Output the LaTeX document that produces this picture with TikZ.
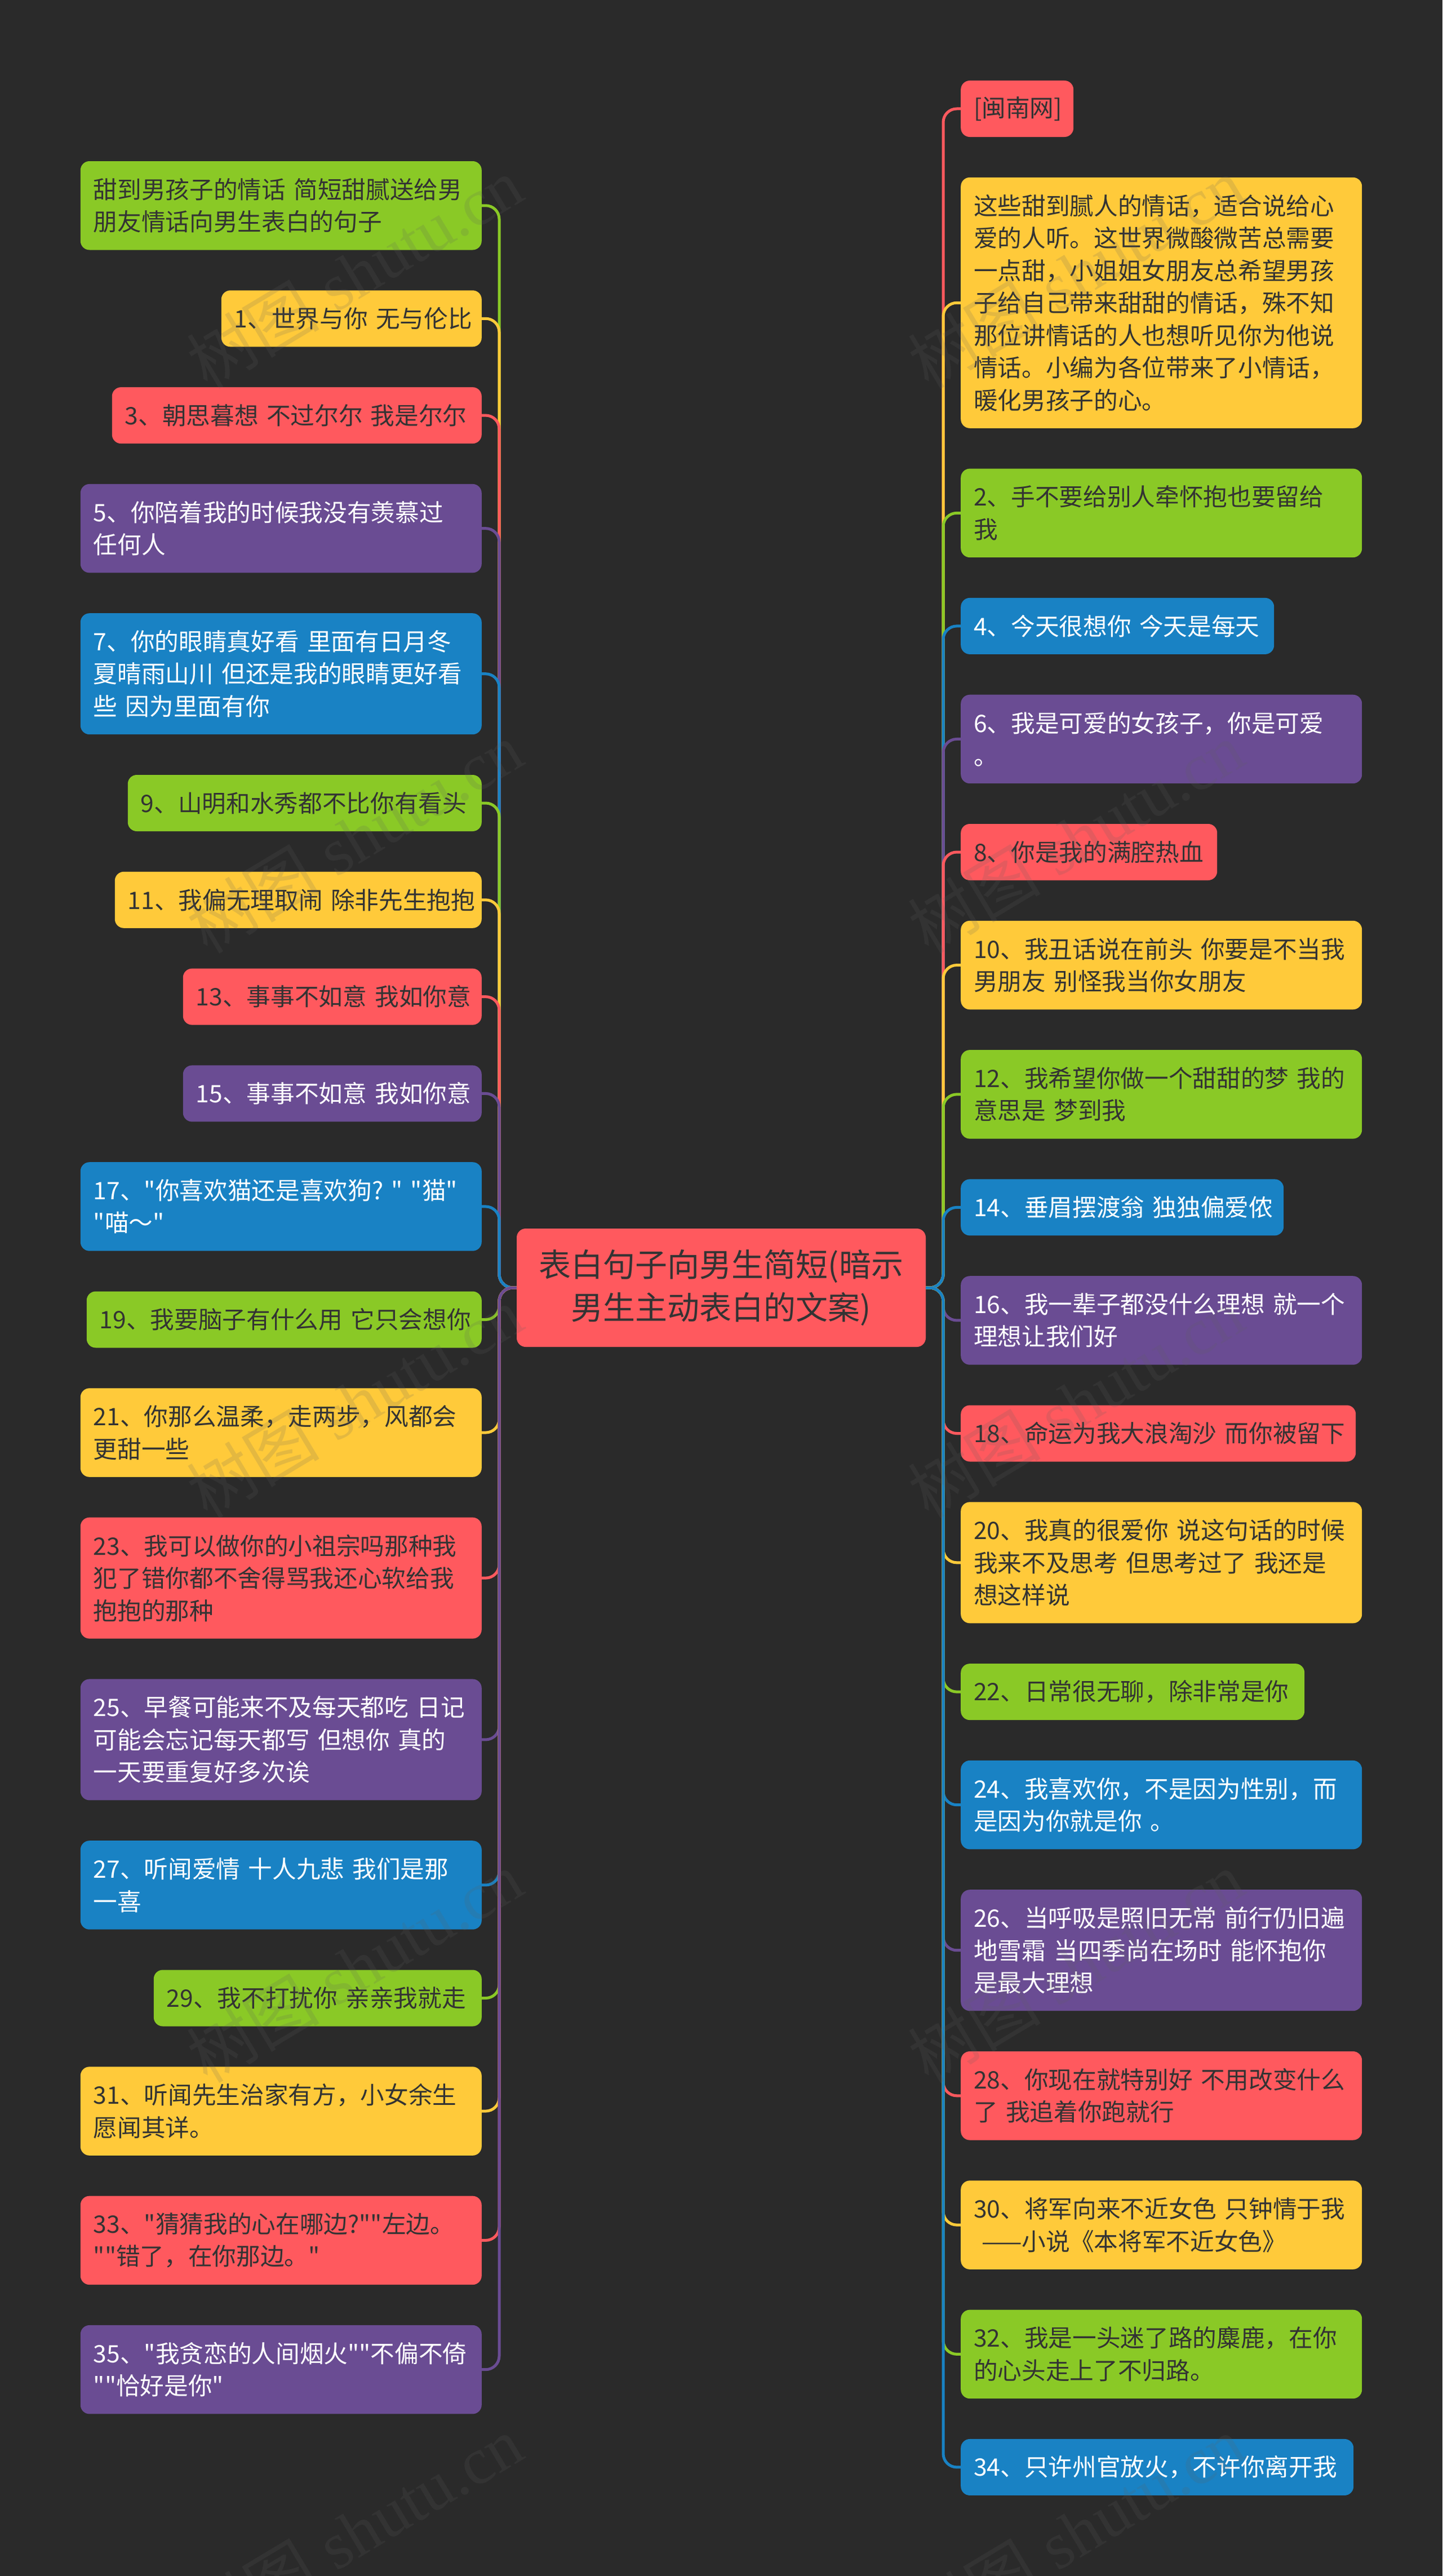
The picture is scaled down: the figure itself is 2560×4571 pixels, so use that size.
\documentclass[tikz,border=0pt]{standalone}
\usepackage{fontspec}
\newfontfamily\cjkf[WordSpace=1.25]{Noto Sans CJK SC}
\newfontfamily\wmserif{Liberation Serif}
\definecolor{bgc}{HTML}{2A2A2A}
\definecolor{grn}{HTML}{8AC926}
\definecolor{yel}{HTML}{FFCA3A}
\definecolor{red2}{HTML}{FF595E}
\definecolor{pur}{HTML}{6A4C93}
\definecolor{blu}{HTML}{1982C4}
\definecolor{ink}{HTML}{333333}
\definecolor{wmc}{HTML}{606060}
\tikzset{
  x=1pt,y=-1pt,
  boxbase/.style={rectangle,rounded corners=16pt,inner xsep=23pt,inner ysep=0pt,align=left,
    font=\cjkf\fontsize{42.67pt}{57.5pt}\selectfont},
  lb/.style n args={2}{boxbase,anchor=east,minimum width=#1pt,text width=#1pt-46pt,minimum height=#2pt},
  rb/.style n args={2}{boxbase,anchor=west,minimum width=#1pt,text width=#1pt-46pt,minimum height=#2pt},
  cg/.style={fill=grn,text=ink},
  cy/.style={fill=yel,text=ink},
  cr/.style={fill=red2,text=ink},
  cp/.style={fill=pur,text=white},
  cb/.style={fill=blu,text=white},
  lk/.style={line width=5pt,rounded corners=24pt},
  wm/.style={anchor=base west,rotate=31,inner sep=0pt,text=wmc,text opacity=0.17,
    font=\cjkf\fontsize{118pt}{118pt}\selectfont},
}
\begin{document}
\begin{tikzpicture}
\useasboundingbox (0,0) rectangle (2560,4571);
\fill[bgc] (0,0) rectangle (2560,4571);
\node[rectangle,rounded corners=16pt,fill=red2,text=ink,minimum width=726pt,minimum height=210pt,inner sep=0pt,align=center,
  font=\cjkf\fontsize{57pt}{76.5pt}\selectfont] (c) at (1280,2285) {表白句子向男生简短(暗示\\男生主动表白的文案)};
\coordinate (sL) at (886,2285);
\coordinate (sR) at (1674,2285);
% left
\node[lb={712}{157.5},cg] (l1) at (855,364.75) {甜到男孩子的情话~简短甜腻送给男\\朋友情话向男生表白的句子};
\node[lb={462}{100},cy] (l2) at (855,565.3) {1、世界与你~无与伦比};
\node[lb={656}{100},cr] (l3) at (855,737.1) {3、朝思暮想~不过尔尔~我是尔尔};
\node[lb={712}{157.5},cp] (l4) at (855,937.65) {5、你陪着我的时候我没有羡慕过\\任何人};
\node[lb={712}{215},cb] (l5) at (855,1195.7) {7、你的眼睛真好看~里面有日月冬\\夏晴雨山川~但还是我的眼睛更好看\\些~因为里面有你};
\node[lb={628}{100},cg] (l6) at (855,1425) {9、山明和水秀都不比你有看头};
\node[lb={651}{100},cy] (l7) at (855,1596.8) {11、我偏无理取闹~除非先生抱抱};
\node[lb={530}{100},cr] (l8) at (855,1768.6) {13、事事不如意~我如你意};
\node[lb={530}{100},cp] (l9) at (855,1940.4) {15、事事不如意~我如你意};
\node[lb={712}{157.5},cb] (l10) at (855,2140.95) {17、"你喜欢猫还是喜欢狗?~"~"猫"\\"喵～"};
\node[lb={701}{100},cg] (l11) at (855,2341.5) {19、我要脑子有什么用~它只会想你};
\node[lb={712}{157.5},cy] (l12) at (855,2542.05) {21、你那么温柔，走两步，风都会\\更甜一些};
\node[lb={712}{215},cr] (l13) at (855,2800.1) {23、我可以做你的小祖宗吗那种我\\犯了错你都不舍得骂我还心软给我\\抱抱的那种};
\node[lb={712}{215},cp] (l14) at (855,3086.9) {25、早餐可能来不及每天都吃~日记\\可能会忘记每天都写~但想你~真的\\一天要重复好多次诶};
\node[lb={712}{157.5},cb] (l15) at (855,3344.95) {27、听闻爱情~十人九悲~我们是那\\一喜};
\node[lb={582}{100},cg] (l16) at (855,3545.5) {29、我不打扰你~亲亲我就走};
\node[lb={712}{157.5},cy] (l17) at (855,3746.05) {31、听闻先生治家有方，小女余生\\愿闻其详。};
\node[lb={712}{157.5},cr] (l18) at (855,3975.35) {33、"猜猜我的心在哪边?""左边。\\""错了，在你那边。"};
\node[lb={712}{157.5},cp] (l19) at (855,4204.65) {35、"我贪恋的人间烟火""不偏不倚\\""恰好是你"};
% right
\node[rb={200}{100},cr] (r1) at (1705,193) {[闽南网]};
\node[rb={712}{445},cy] (r2) at (1705,537.3) {这些甜到腻人的情话，适合说给心\\爱的人听。这世界微酸微苦总需要\\一点甜，小姐姐女朋友总希望男孩\\子给自己带来甜甜的情话，殊不知\\那位讲情话的人也想听见你为他说\\情话。小编为各位带来了小情话，\\暖化男孩子的心。};
\node[rb={712}{157.5},cg] (r3) at (1705,910.35) {2、手不要给别人牵怀抱也要留给\\我};
\node[rb={556}{100},cb] (r4) at (1705,1110.9) {4、今天很想你~今天是每天};
\node[rb={712}{157.5},cp] (r5) at (1705,1311.45) {6、我是可爱的女孩子，你是可爱\\。};
\node[rb={455}{100},cr] (r6) at (1705,1512) {8、你是我的满腔热血};
\node[rb={712}{157.5},cy] (r7) at (1705,1712.55) {10、我丑话说在前头~你要是不当我\\男朋友~别怪我当你女朋友};
\node[rb={712}{157.5},cg] (r8) at (1705,1941.85) {12、我希望你做一个甜甜的梦~我的\\意思是~梦到我};
\node[rb={573}{100},cb] (r9) at (1705,2142.4) {14、垂眉摆渡翁~独独偏爱侬};
\node[rb={712}{157.5},cp] (r10) at (1705,2342.95) {16、我一辈子都没什么理想~就一个\\理想让我们好};
\node[rb={701}{100},cr] (r11) at (1705,2543.5) {18、命运为我大浪淘沙~而你被留下};
\node[rb={712}{215},cy] (r12) at (1705,2772.8) {20、我真的很爱你~说这句话的时候\\我来不及思考~但思考过了~我还是\\想这样说};
\node[rb={610}{100},cg] (r13) at (1705,3002.1) {22、日常很无聊，除非常是你};
\node[rb={712}{157.5},cb] (r14) at (1705,3202.65) {24、我喜欢你，不是因为性别，而\\是因为你就是你~。};
\node[rb={712}{215},cp] (r15) at (1705,3460.7) {26、当呼吸是照旧无常~前行仍旧遍\\地雪霜~当四季尚在场时~能怀抱你\\是最大理想};
\node[rb={712}{157.5},cr] (r16) at (1705,3718.75) {28、你现在就特别好~不用改变什么\\了~我追着你跑就行};
\node[rb={712}{157.5},cy] (r17) at (1705,3948.05) {30、将军向来不近女色~只钟情于我\\~——小说《本将军不近女色》};
\node[rb={712}{157.5},cg] (r18) at (1705,4177.35) {32、我是一头迷了路的麋鹿，在你\\的心头走上了不归路。};
\node[rb={697}{100},cb] (r19) at (1705,4377.9) {34、只许州官放火，不许你离开我};
% connectors, later ones over earlier ones
\foreach \n/\col in {l1/grn,l2/yel,l3/red2,l4/pur,l5/blu,l6/grn,l7/yel,l8/red2,l9/pur,l10/blu,l11/grn,l12/yel,l13/red2,l14/pur,l15/blu,l16/grn,l17/yel,l18/red2,l19/pur}
  \draw[lk,draw=\col] (c.west) -- (sL) -- (sL |- \n.east) -- (\n.east);
\foreach \n/\col in {r1/red2,r2/yel,r3/grn,r4/blu,r5/pur,r6/red2,r7/yel,r8/grn,r9/blu,r10/pur,r11/red2,r12/yel,r13/grn,r14/blu,r15/pur,r16/red2,r17/yel,r18/grn,r19/blu}
  \draw[lk,draw=\col] (c.east) -- (sR) -- (sR |- \n.west) -- (\n.west);
% watermarks
\foreach \i/\x in {1/368,2/1648}
  \foreach \j/\y in {1/693,2/1695,3/2697,4/3699,5/4701}
    \node[wm] (wm\i\j) at (\x,\y) {树图\hspace{30pt}{\wmserif shutu.cn}};
\end{tikzpicture}
\end{document}
